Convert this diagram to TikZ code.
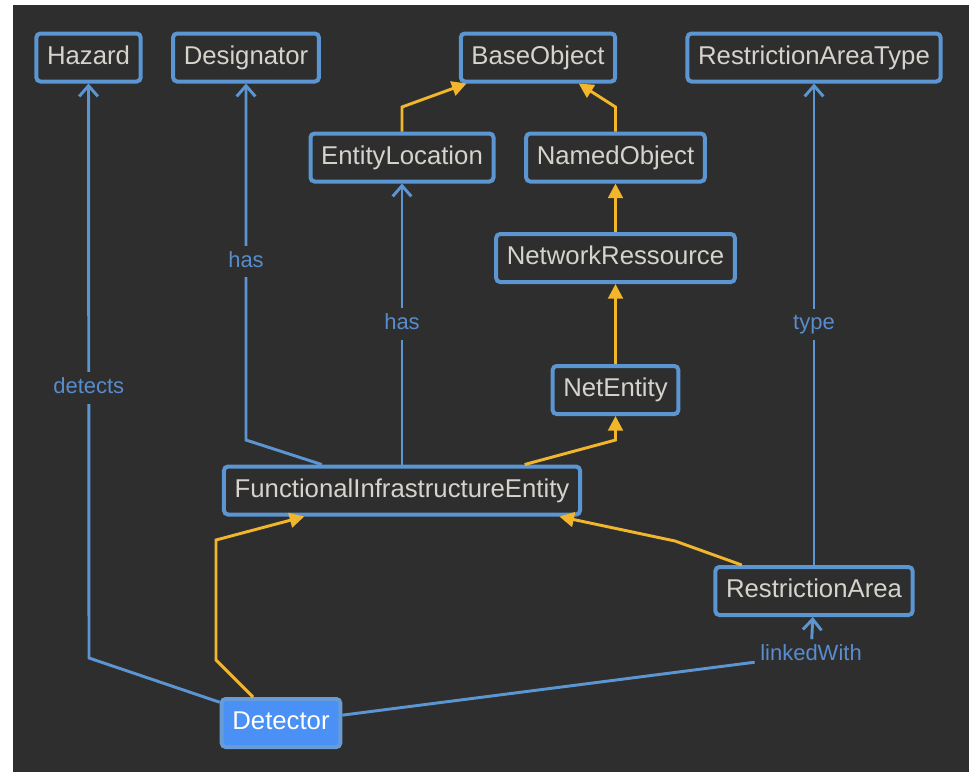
\documentclass[tikz,border=0pt]{standalone}
\usepackage{fontspec}
\setmainfont{Liberation Sans}
\usetikzlibrary{positioning, arrows.meta}

\definecolor{bgdark}{RGB}{46,46,46}
\definecolor{boxblue}{RGB}{92,150,210}
\definecolor{txtgray}{RGB}{214,211,204}
\definecolor{isayellow}{RGB}{242,182,44}
\definecolor{lblblue}{RGB}{88,140,205}
\definecolor{selfill}{RGB}{74,144,245}
\definecolor{selborder}{RGB}{104,156,214}

\begin{document}
\begin{tikzpicture}[x=0.75pt,y=-0.75pt,
    cls/.style={draw=boxblue,fill=bgdark,line width=3pt,rounded corners=3pt,text=txtgray,
      font=\fontsize{19.3}{22}\selectfont,text height=13.9pt,text depth=4pt,
      minimum height=36pt,inner xsep=8pt},
    selcls/.style={cls,fill=selfill,draw=selborder,text=white},
    assocline/.style={draw=boxblue,line width=2.2pt},
    assoc/.style={assocline,-{Straight Barb[length=8pt,width=14pt]}},
    isa/.style={draw=isayellow,line width=2.2pt,-{Triangle[length=11pt,width=11pt]}},
    lbl/.style={fill=bgdark,text=lblblue,font=\fontsize{16.5}{18}\selectfont,
      text height=11.9pt,text depth=3.4pt,inner sep=4pt}]

    \useasboundingbox (0,0) rectangle (969,772);
    \fill[white] (0,0) rectangle (969,772);
    \fill[bgdark] (13,5) rectangle (969,772);

    % classes
    \node[cls] (haz) at (88.5,57.5) {Hazard};
    \node[cls] (des) at (246,57.5) {Designator};
    \node[cls] (bo) at (538,57.5) {BaseObject};
    \node[cls] (rat) at (814,57.5) {RestrictionAreaType};
    \node[cls] (el) at (402,157.5) {EntityLocation};
    \node[cls] (no) at (615.5,157.5) {NamedObject};
    \node[cls] (nr) at (615.5,258) {NetworkRessource};
    \node[cls] (ne) at (615.5,390) {NetEntity};
    \node[cls] (fie) at (402,490.5) {FunctionalInfrastructureEntity};
    \node[cls] (ra) at (814,591) {RestrictionArea};
    \node[selcls] (det) at (281,723) {Detector};

    % bends
    \coordinate (kDetHaz) at (89,658);
    \coordinate (kFieDes) at (246,440);
    \coordinate (kFieNe) at (615.5,440);
    \coordinate (kElBo) at (402,107);
    \coordinate (kNoBo) at (615.5,107);
    \coordinate (kDetFieA) at (216,660);
    \coordinate (kDetFieB) at (216,540);
    \coordinate (kRaFie) at (675,541);

    % associations
    \draw[assoc] (det) -- (kDetHaz) -- node[lbl,pos=0.47] (lDetects) {detects} (haz);
    \draw[assoc] (fie) -- (kFieDes) -- node[lbl] (lHasDes) {has} (des);
    \draw[assoc] (fie) -- node[lbl] (lHasLoc) {has} (el);
    \draw[assoc] (ra) -- node[lbl] (lType) {type} (rat);
    \node[lbl] (lLinked) at (811,655) {linkedWith};
    \draw[assocline] (det) -- (lLinked);
    \draw[assoc] (lLinked) -- (ra);

    % inheritance
    \draw[isa] ([xshift=92pt]fie.north) -- (kFieNe) -- (ne);
    \draw[isa] (ne) -- (nr);
    \draw[isa] (nr) -- (no);
    \draw[isa] (no) -- (kNoBo) -- (bo);
    \draw[isa] (el) -- (kElBo) -- (bo);
    \draw[isa] ([xshift=-21pt]det.north) -- (kDetFieA) -- (kDetFieB) -- (fie);
    \draw[isa] (ra) -- (kRaFie) -- ([xshift=118pt]fie.south);
\end{tikzpicture}
\end{document}
